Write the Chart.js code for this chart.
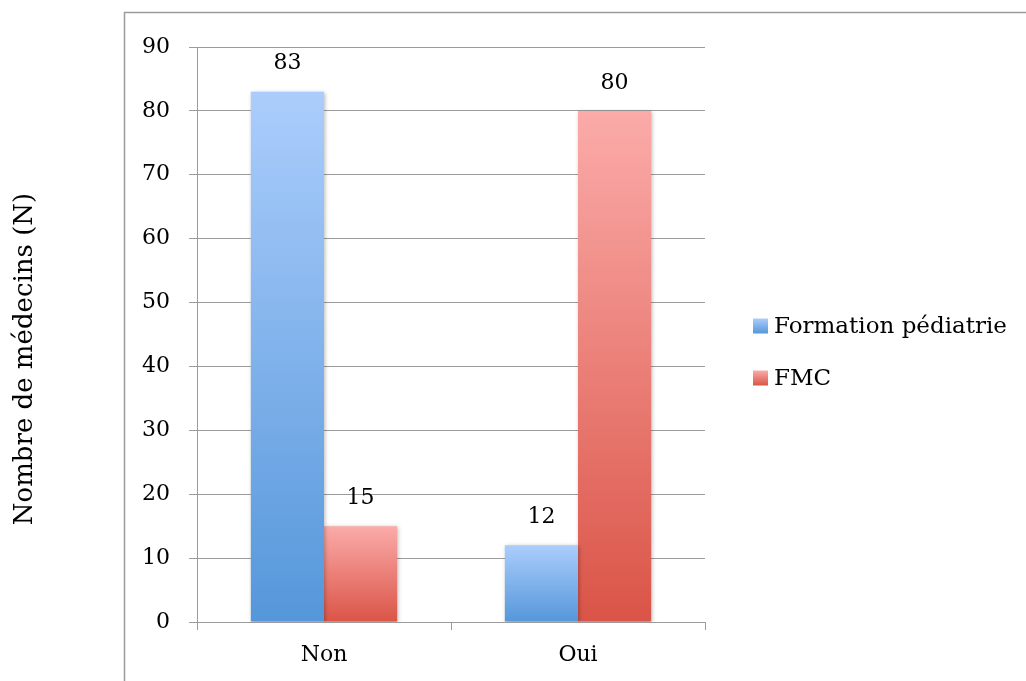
<!DOCTYPE html>
<html lang="fr">
<head>
<meta charset="utf-8">
<title>Formation pédiatrie et FMC</title>
<script src="https://cdn.jsdelivr.net/npm/chart.js@4/dist/chart.umd.min.js"></script>
<style>
  html, body { margin: 0; padding: 0; background: #ffffff; }
  #wrap { position: relative; width: 1026px; height: 681px; overflow: hidden; }
</style>
</head>
<body>
<div id="wrap"><canvas id="chart" width="1026" height="681"></canvas></div>
<script>
// Réponses (catégories) et effectifs par série
const categories = ['Non', 'Oui'];
const formationPediatrie = [83, 12];
const fmc = [15, 80];
const seriesNames = ['Formation pédiatrie', 'FMC'];
const yTicks = [0, 10, 20, 30, 40, 50, 60, 70, 80, 90];
const yTitle = 'Nombre de médecins (N)';

const FONT = '"DejaVu Serif", "Liberation Serif", serif';
const palettes = [
  { top: '#abcdfc', bottom: '#5597da' },
  { top: '#fbaba9', bottom: '#da5447' }
];

// Dégradé vertical propre à chaque barre, du sommet à la base
function barGradient(paletteIndex) {
  return (ctx) => {
    const chart = ctx.chart;
    const y = chart.scales.y;
    if (!chart.chartArea || !y || ctx.raw === undefined) return palettes[paletteIndex].bottom;
    const top = y.getPixelForValue(ctx.raw);
    const base = y.getPixelForValue(0);
    const g = chart.ctx.createLinearGradient(0, top, 0, base);
    g.addColorStop(0, palettes[paletteIndex].top);
    g.addColorStop(1, palettes[paletteIndex].bottom);
    return g;
  };
}

// Cadre, titre d'axe, légende et étiquettes de valeur
const decorations = {
  id: 'decorations',
  beforeDraw(chart) {
    const c = chart.ctx;
    c.save();
    c.strokeStyle = '#9b9b9b';
    c.lineWidth = 1.5;
    c.beginPath();
    c.moveTo(124.5, 690);
    c.lineTo(124.5, 12.5);
    c.lineTo(1040, 12.5);
    c.stroke();
    c.restore();
  },
  beforeDatasetsDraw(chart) {
    const c = chart.ctx;
    c.save();
    c.shadowColor = 'rgba(0,0,0,0.28)';
    c.shadowBlur = 4;
    c.shadowOffsetX = 1;
    c.shadowOffsetY = 1;
  },
  afterDatasetsDraw(chart) {
    chart.ctx.restore();
  },
  afterDraw(chart) {
    const c = chart.ctx;
    c.save();
    // titre de l'axe vertical
    c.translate(25, 359);
    c.rotate(-Math.PI / 2);
    c.font = '26px ' + FONT;
    c.fillStyle = '#000';
    c.textAlign = 'center';
    c.textBaseline = 'middle';
    c.fillText(yTitle, 0, 0);
    c.restore();

    // valeurs au-dessus des barres
    c.save();
    c.font = '22px ' + FONT;
    c.fillStyle = '#000';
    c.textAlign = 'center';
    c.textBaseline = 'middle';
    chart.data.datasets.forEach((ds, di) => {
      const meta = chart.getDatasetMeta(di);
      meta.data.forEach((bar, i) => {
        c.fillText(String(ds.data[i]), bar.x, bar.y - 28);
      });
    });
    c.restore();

    // légende
    c.save();
    c.font = '23px ' + FONT;
    c.textAlign = 'left';
    c.textBaseline = 'middle';
    chart.data.datasets.forEach((ds, di) => {
      const cy = 326 + di * 52;
      const g = c.createLinearGradient(0, cy - 7.5, 0, cy + 7.5);
      g.addColorStop(0, palettes[di].top);
      g.addColorStop(1, palettes[di].bottom);
      c.fillStyle = g;
      c.fillRect(753, cy - 7.5, 15, 15);
      c.fillStyle = '#000';
      c.fillText(ds.label, 774, cy + 1);
    });
    c.restore();
  }
};

new Chart(document.getElementById('chart'), {
  type: 'bar',
  data: {
    labels: categories,
    datasets: [
      { label: seriesNames[0], data: formationPediatrie, backgroundColor: barGradient(0) },
      { label: seriesNames[1], data: fmc, backgroundColor: barGradient(1) }
    ]
  },
  options: {
    responsive: false,
    animation: false,
    events: [],
    layout: { padding: { left: 0, top: 47, right: 321, bottom: 0 } },
    datasets: {
      bar: { categoryPercentage: 0.576, barPercentage: 1.0, borderWidth: 0 }
    },
    plugins: {
      legend: { display: false },
      tooltip: { enabled: false }
    },
    scales: {
      x: {
        afterFit(scale) { scale.height = 59; },
        grid: {
          offset: true,
          drawOnChartArea: false,
          drawTicks: true,
          tickLength: 8,
          color: '#9b9b9b',
          lineWidth: 1
        },
        border: { display: true, color: '#9b9b9b', width: 1 },
        ticks: {
          color: '#000',
          padding: 12,
          font: { family: FONT, size: 22 }
        }
      },
      y: {
        min: 0,
        max: 90,
        afterFit(scale) { scale.width = 197; },
        afterBuildTicks(scale) { scale.ticks = yTicks.map(v => ({ value: v })); },
        grid: {
          color: '#9b9b9b',
          lineWidth: 1,
          tickLength: 8,
          drawTicks: true
        },
        border: { display: true, color: '#9b9b9b', width: 1 },
        ticks: {
          color: '#000',
          padding: 19,
          font: { family: FONT, size: 22 }
        },
        title: { display: false }
      }
    }
  },
  plugins: [decorations]
});
</script>
</body>
</html>
